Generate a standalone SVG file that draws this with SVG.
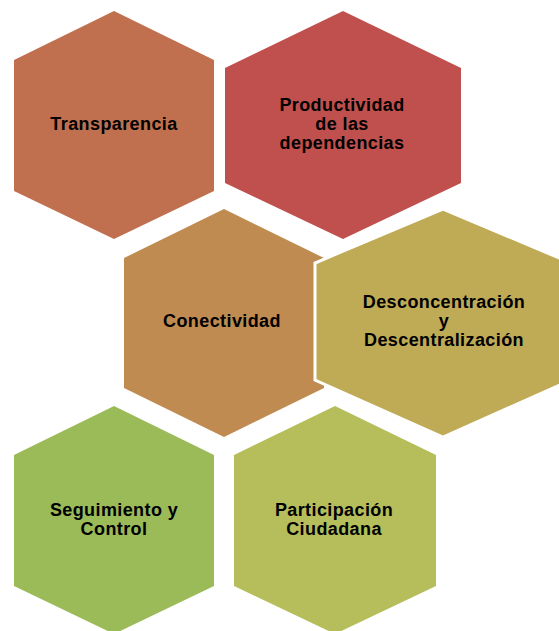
<svg xmlns="http://www.w3.org/2000/svg" width="559" height="631" viewBox="0 0 559 631">
<style>
.hex{stroke:none}
.lbl{font-family:"Liberation Sans",Arial,sans-serif;font-weight:bold;font-size:18px;letter-spacing:0.4px;fill:#000;text-anchor:middle}
</style>
<rect width="559" height="631" fill="#fff"/>
<g id="connectors"/>
<g id="n1">
<polygon class="hex" fill="#C0704F" points="114,11 214,60 214,191 114,239 14,191 14,60"/>
<text class="lbl" x="114" y="130">Transparencia</text>
</g>
<g id="n2">
<polygon class="hex" fill="#C0504D" points="343,11 461,68 461,183 343,239 225,183 225,68"/>
<text class="lbl" x="342" y="111">Productividad</text>
<text class="lbl" x="342" y="130">de las</text>
<text class="lbl" x="342" y="149">dependencias</text>
</g>
<g id="n3">
<polygon class="hex" fill="#BF8B50" points="224,209 324,258 324,388 224,437 124,388 124,258"/>
<text class="lbl" x="222" y="327">Conectividad</text>
</g>
<g id="n4">
<polygon fill="#BFAA55" stroke="#fff" stroke-width="3" points="443,209 571,263 571,380 443,437 315,380 315,263"/>
<text class="lbl" x="444" y="308">Desconcentración</text>
<text class="lbl" x="444" y="327">y</text>
<text class="lbl" x="444" y="346">Descentralización</text>
</g>
<g id="n5">
<polygon class="hex" fill="#9BBB59" points="114,406 214,455 214,586 114,634 14,586 14,455"/>
<text class="lbl" x="114" y="516">Seguimiento y</text>
<text class="lbl" x="114" y="535">Control</text>
</g>
<g id="n6">
<polygon class="hex" fill="#B6BD5B" points="335,406 436,455 436,586 335,634 234,586 234,455"/>
<text class="lbl" x="334" y="516">Participación</text>
<text class="lbl" x="334" y="535">Ciudadana</text>
</g>
</svg>
